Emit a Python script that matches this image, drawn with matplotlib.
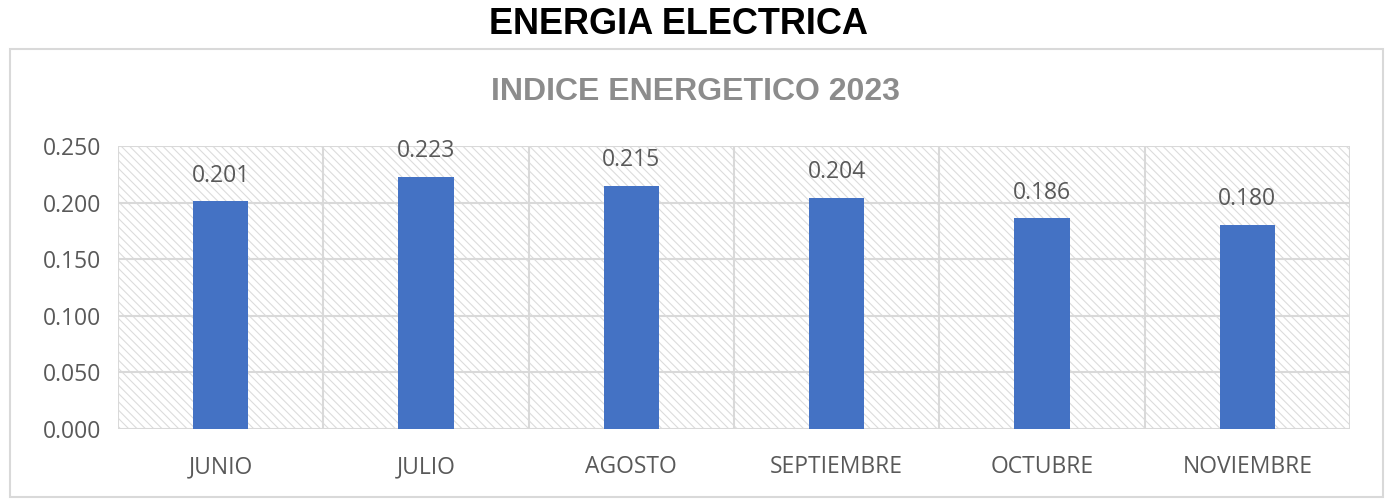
import numpy as np
import matplotlib
matplotlib.use("Agg")
import matplotlib.pyplot as plt
from matplotlib.patches import Rectangle

# ---------------------------------------------------------------------------
# Data
# ---------------------------------------------------------------------------
MONTHS = ["JUNIO", "JULIO", "AGOSTO", "SEPTIEMBRE", "OCTUBRE", "NOVIEMBRE"]
INDICE = [0.201, 0.223, 0.215, 0.204, 0.186, 0.180]
Y_TICKS = [0.000, 0.050, 0.100, 0.150, 0.200, 0.250]

BAR_COLOR = "#4472C4"
GRID_COLOR = "#d9d9d9"
TEXT_COLOR = "#595959"

plt.rcParams["hatch.color"] = "#d9d9d9"
plt.rcParams["hatch.linewidth"] = 0.8

fig = plt.figure(figsize=(13.97, 5.0), dpi=100)

# outer chart frame
fig.patches.append(Rectangle((10 / 1397, 3 / 500), 1373 / 1397, 448 / 500,
                             transform=fig.transFigure, fill=False,
                             edgecolor=GRID_COLOR, linewidth=1.5))

fig.text(0.486, 0.95, "ENERGIA ELECTRICA", ha="center", va="center",
         fontsize=26, fontweight="bold", family="Liberation Sans", color="black")
fig.text(0.498, 0.815, "INDICE ENERGETICO 2023", ha="center", va="center",
         fontsize=23, fontweight="bold", family="Liberation Sans", color="#8c8c8c")

ax = fig.add_axes([118 / 1397, 1 - 429 / 500, 1232 / 1397, 283 / 500])
x = np.arange(len(MONTHS))
ax.set_xlim(-0.5, len(MONTHS) - 0.5)
ax.set_ylim(0, 0.25)

# hatched plot background
ax.add_patch(Rectangle((0, 0), 1, 1, transform=ax.transAxes, facecolor="white",
                       hatch="\\\\\\\\", edgecolor="#dcdcdc", linewidth=0, zorder=0))

# gridlines
for yv in Y_TICKS:
    ax.axhline(yv, color=GRID_COLOR, linewidth=1.5, zorder=1)
for xv in np.arange(-0.5, len(MONTHS), 1.0):
    ax.axvline(xv, color=GRID_COLOR, linewidth=1.5, zorder=1)

bars = ax.bar(x, INDICE, width=0.27, color=BAR_COLOR, zorder=3)
for xi, v in zip(x, INDICE):
    ax.annotate(f"{v:.3f}", (xi, v), xytext=(0, 10), textcoords="offset points",
                ha="center", va="bottom", fontsize=16.5, color=TEXT_COLOR,
                family="Open Sans")

ax.set_xticks(x)
ax.set_xticklabels(MONTHS)
ax.set_yticks(Y_TICKS)
ax.set_yticklabels([f"{v:.3f}" for v in Y_TICKS])
ax.tick_params(axis="both", length=0, labelsize=16.5, labelcolor=TEXT_COLOR)
ax.tick_params(axis="x", pad=19)
ax.tick_params(axis="y", pad=12)
for lab in ax.get_xticklabels() + ax.get_yticklabels():
    lab.set_family("Open Sans")
for s in ax.spines.values():
    s.set_visible(False)

fig.savefig("out.png", dpi=100)
